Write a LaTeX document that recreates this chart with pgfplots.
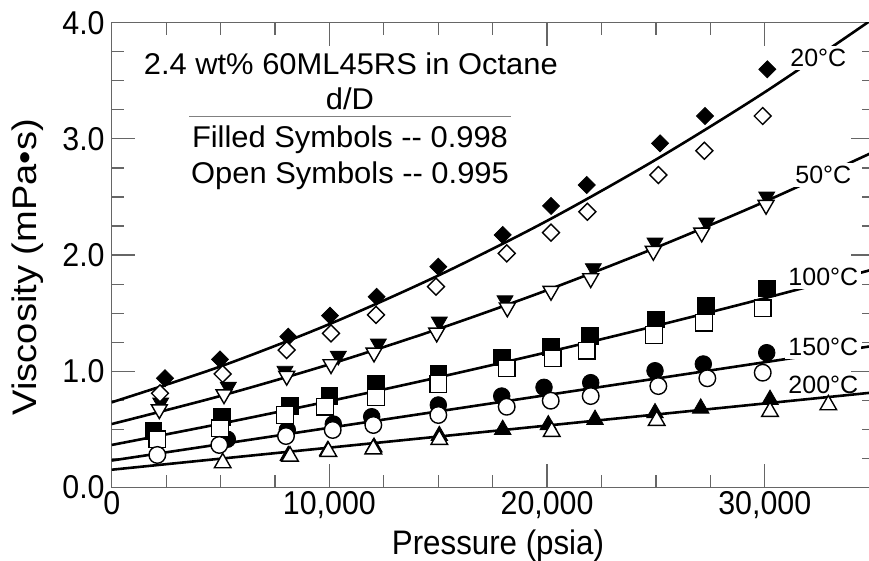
\documentclass[border=0pt]{standalone}
\usepackage{fontspec}
\setmainfont{Liberation Sans}
\newfontfamily\tickfont{Liberation Sans}[FakeStretch=0.92]
\newfontfamily\ylabfont{Liberation Sans}[FakeStretch=1.12]
\newfontfamily\legfont{Liberation Sans}[FakeStretch=1.03]
\usepackage{pgfplots}
\pgfplotsset{compat=1.18}
\definecolor{axgray}{gray}{0.4}
\begin{document}
\begin{tikzpicture}
\begin{axis}[
  width=380.95pt, height=232.4pt, scale only axis,
  xmin=0, xmax=35000, ymin=0, ymax=4,
  scaled x ticks=false, scaled y ticks=false,
  xtick={0,10000,20000,30000}, xticklabels={0,{10,000},{20,000},{30,000}},
  ytick={0,1,2,3,4}, yticklabels={0.0,1.0,2.0,3.0,4.0},
  minor x tick num=3, minor y tick num=3,
  tick align=inside, major tick length=11.5pt, minor tick length=6pt,
  axis line style={axgray, line width=0.6pt},
  tick style={axgray, line width=0.6pt},
  ticklabel style={font=\tickfont\fontsize{16.5}{18}\selectfont},
  xticklabel style={yshift=1.5pt},
  xlabel={Pressure (psia)}, ylabel={Viscosity (mPa•s)},
  xlabel style={font=\tickfont\fontsize{17}{19}\selectfont, at={(axis description cs:0.507,-0.126)}, anchor=center},
  ylabel style={font=\ylabfont\fontsize{17}{19}\selectfont, at={(axis description cs:-0.110,0.474)}, anchor=center},
]
% fitted curves
\addplot[black, line width=1.3pt, smooth] coordinates {(0,0.733) (5000,1.042) (10000,1.406) (15000,1.824) (20000,2.295) (25000,2.822) (30000,3.402) (35000,4.037)};
\addplot[black, line width=1.3pt, smooth] coordinates {(0,0.546) (5000,0.788) (10000,1.060) (15000,1.364) (20000,1.698) (25000,2.064) (30000,2.460) (35000,2.888)};
\addplot[black, line width=1.3pt, smooth] coordinates {(0,0.366) (5000,0.549) (10000,0.743) (15000,0.948) (20000,1.164) (25000,1.391) (30000,1.629) (35000,1.878)};
\addplot[black, line width=1.3pt, smooth] coordinates {(0,0.232) (5000,0.373) (10000,0.514) (15000,0.655) (20000,0.796) (25000,0.937) (30000,1.078) (35000,1.219)};
\addplot[black, line width=1.3pt, smooth] coordinates {(0,0.153) (5000,0.248) (10000,0.343) (15000,0.438) (20000,0.533) (25000,0.628) (30000,0.723) (35000,0.818)};
% filled symbols (d/D = 0.998)
\addplot[only marks, mark=square*, mark size=3pt, mark options={rotate=45, fill=black, draw=black}] coordinates {(2449,0.940) (4975,1.103) (8113,1.298) (10029,1.479) (12170,1.642) (15004,1.900) (17962,2.173) (20181,2.423) (21822,2.603) (25189,2.962) (27256,3.197) (30118,3.599)};
\addplot[only marks, mark=triangle*, mark size=4.6pt, mark options={rotate=180, fill=black, draw=black}] coordinates {(2251,0.730) (5357,0.865) (7961,1.003) (10410,1.132) (12250,1.238) (15050,1.427) (18068,1.610) (22125,1.886) (24959,2.107) (27334,2.279) (30090,2.503)};
\addplot[only marks, mark=square*, mark size=4.15pt, mark options={fill=black, draw=black}] coordinates {(1911,0.489) (5053,0.609) (8191,0.701) (9997,0.787) (12142,0.891) (15004,0.983) (17917,1.120) (20168,1.212) (21973,1.304) (25005,1.448) (27302,1.562) (30090,1.714)};
\addplot[only marks, mark=*, mark size=4.15pt, mark options={fill=black, draw=black}] coordinates {(5311,0.415) (8067,0.495) (10180,0.546) (11944,0.609) (15004,0.710) (17917,0.787) (19860,0.862) (22005,0.902) (24959,1.005) (27178,1.063) (30090,1.160)};
\addplot[only marks, mark=triangle*, mark size=4.8pt, mark options={fill=black, draw=black}] coordinates {(8113,0.274) (9923,0.317) (12050,0.346) (15050,0.446) (17962,0.498) (20057,0.538) (22203,0.584) (24959,0.641) (27059,0.681) (30242,0.756)};
% open symbols (d/D = 0.995)
\addplot[only marks, mark=square*, mark size=3pt, mark options={rotate=45, fill=white, draw=black, line width=0.7pt}] coordinates {(2219,0.811) (5099,0.977) (8040,1.183) (10075,1.327) (12142,1.485) (14898,1.728) (18146,2.015) (20181,2.193) (21849,2.373) (25111,2.689) (27224,2.898) (29907,3.197)};
\addplot[only marks, mark=triangle*, mark size=4.6pt, mark options={rotate=180, fill=white, draw=black, line width=0.7pt}] coordinates {(2187,0.672) (5159,0.801) (8040,0.960) (10075,1.060) (12050,1.160) (14930,1.332) (18174,1.548) (20181,1.691) (22005,1.800) (24881,2.035) (27105,2.193) (30059,2.431)};
\addplot[only marks, mark=square*, mark size=4.15pt, mark options={fill=white, draw=black, line width=0.7pt}] coordinates {(2095,0.415) (4975,0.509) (7961,0.624) (9799,0.695) (12142,0.776) (15004,0.891) (18146,1.026) (20260,1.112) (21822,1.177) (24913,1.312) (27210,1.418) (29907,1.542)};
\addplot[only marks, mark=*, mark size=4.15pt, mark options={fill=white, draw=black, line width=0.7pt}] coordinates {(2095,0.280) (4943,0.366) (8007,0.443) (10153,0.495) (12018,0.538) (15004,0.624) (18146,0.695) (20168,0.747) (22005,0.787) (25111,0.873) (27362,0.940) (29907,0.988)};
\addplot[only marks, mark=triangle*, mark size=4.8pt, mark options={fill=white, draw=black, line width=0.7pt}] coordinates {(5099,0.211) (8191,0.268) (9951,0.309) (12018,0.331) (15050,0.412) (20214,0.481) (25037,0.576) (30242,0.653) (32921,0.710)};
% annotation block
\node[anchor=base, font=\legfont\fontsize{15}{17}\selectfont] at (axis cs:10984,3.558) {2.4 wt\% 60ML45RS in Octane};
\node[anchor=base, font=\legfont\fontsize{15}{17}\selectfont] at (axis cs:10947,3.249) {d/D};
\draw[gray, line width=0.5pt] (axis cs:3565,3.191) -- (axis cs:18344,3.191);
\node[anchor=base, font=\legfont\fontsize{15}{17}\selectfont] at (axis cs:10947,2.924) {Filled Symbols -{}- 0.998};
\node[anchor=base, font=\legfont\fontsize{15}{17}\selectfont] at (axis cs:10947,2.612) {Open Symbols -{}- 0.995};
% temperature labels
\node[fill=white, inner sep=1.5pt, font=\fontsize{12.5}{14}\selectfont] at (axis cs:32461,3.694) {20°C};
\node[fill=white, inner sep=1.5pt, font=\fontsize{12.5}{14}\selectfont] at (axis cs:32691,2.689) {50°C};
\node[fill=white, inner sep=1.5pt, font=\fontsize{12.5}{14}\selectfont] at (axis cs:32691,1.814) {100°C};
\node[fill=white, inner sep=1.5pt, font=\fontsize{12.5}{14}\selectfont] at (axis cs:32691,1.212) {150°C};
\node[inner sep=1.5pt, font=\fontsize{12.5}{14}\selectfont] at (axis cs:32691,0.880) {200°C};
\end{axis}
\pgfresetboundingbox
\path[use as bounding box] ([xshift=-55.85pt,yshift=-36.75pt]current axis.south west) rectangle ([xshift=-2.3pt,yshift=11.35pt]current axis.north east);
\end{tikzpicture}
\end{document}
